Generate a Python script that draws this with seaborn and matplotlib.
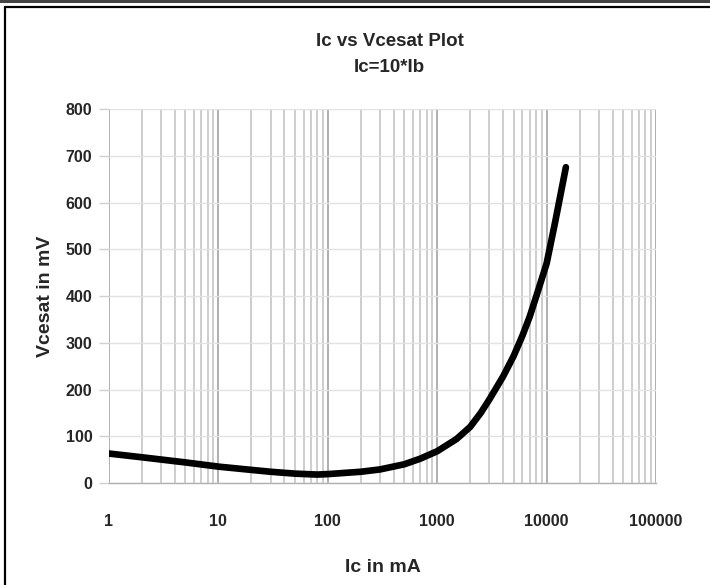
import numpy as np
import pandas as pd
import matplotlib
matplotlib.use("Agg")
import matplotlib.pyplot as plt
import seaborn as sns
from matplotlib.ticker import LogLocator, FixedLocator, NullFormatter
from matplotlib.lines import Line2D

# values (Ic in mA, Vcesat in mV)
ic_ma = [1, 2, 5, 10, 20, 30, 50, 80, 100, 200, 300, 500, 700,
         1000, 1500, 2000, 2500, 3000, 4000, 5000, 6000, 7000, 8000, 10000, 12000, 15000]
vcesat_mv = [63, 55, 44, 35, 28, 24, 20, 18, 19, 24, 29, 40, 52,
             68, 94, 120, 150, 179, 228, 272, 315, 356, 398, 470, 560, 676]

x_ticks = [1, 10, 100, 1000, 10000, 100000]
x_ticklabels = ['1', '10', '100', '1000', '10000', '100000']
y_ticks = [0, 100, 200, 300, 400, 500, 600, 700, 800]

df = pd.DataFrame({'Ic': ic_ma, 'Vcesat': vcesat_mv})

sns.set_style('white')
plt.rcParams['font.family'] = ['Liberation Sans', 'DejaVu Sans']
plt.rcParams['font.weight'] = 'bold'

fig = plt.figure(figsize=(7.1, 5.85), dpi=100)
ax = fig.add_axes([0.1535, 0.1744, 0.924 - 0.1535, 0.8132 - 0.1744])

ax.set_xscale('log')
ax.set_xlim(1, 100000)
ax.set_ylim(0, 800)

# gridlines first, curve on top
ax.xaxis.set_major_locator(FixedLocator(x_ticks))
ax.xaxis.set_minor_locator(LogLocator(base=10, subs=np.arange(2, 10)))
ax.xaxis.set_minor_formatter(NullFormatter())
ax.set_xticklabels(x_ticklabels)
ax.set_yticks(y_ticks)

ax.grid(which='major', axis='x', color='#9a9a9a', linewidth=1.1)
ax.grid(which='minor', axis='x', color='#c0c0c0', linewidth=1.1)
ax.grid(which='major', axis='y', color='#e2e2e2', linewidth=1.0)
ax.set_axisbelow(True)

sns.lineplot(data=df, x='Ic', y='Vcesat', ax=ax, color='black',
             linewidth=4.8, sort=False, solid_capstyle='round', solid_joinstyle='round')

for s in ['top', 'right', 'left']:
    ax.spines[s].set_visible(False)
ax.spines['bottom'].set_color('#b0b0b0')
ax.spines['bottom'].set_linewidth(1.0)

ax.tick_params(axis='x', which='both', direction='out', length=5, color='#c8c8c8',
               width=1, pad=17, labelsize=11.5)
ax.tick_params(axis='y', which='major', direction='out', length=7, color='#d0d0d0',
               width=1, pad=5, labelsize=11.5, left=True)
for lbl in ax.get_xticklabels() + ax.get_yticklabels():
    lbl.set_fontweight('bold')

ax.set_xlabel('Ic in mA', fontsize=14, fontweight='bold', labelpad=22)
ax.set_ylabel('Vcesat in mV', fontsize=14, fontweight='bold', labelpad=8)

fig.text(0.549, 1 - 41 / 585, 'Ic vs Vcesat Plot', ha='center', va='center',
         fontsize=13.5, fontweight='bold')
fig.text(0.549, 1 - 67 / 585, 'Ic=10*Ib', ha='center', va='center',
         fontsize=13.5, fontweight='bold')

# frame around the chart, as in the screenshot
fig.add_artist(Line2D([0, 1], [1 - 1 / 585, 1 - 1 / 585], transform=fig.transFigure,
                      color='#444444', linewidth=2.2))
fig.add_artist(Line2D([5 / 710, 1], [1 - 6.7 / 585, 1 - 6.7 / 585], transform=fig.transFigure,
                      color='black', linewidth=1.6))
fig.add_artist(Line2D([5 / 710, 5 / 710], [0, 1 - 6.7 / 585], transform=fig.transFigure,
                      color='black', linewidth=1.6))

fig.savefig('out.png', dpi=100, facecolor='white')
